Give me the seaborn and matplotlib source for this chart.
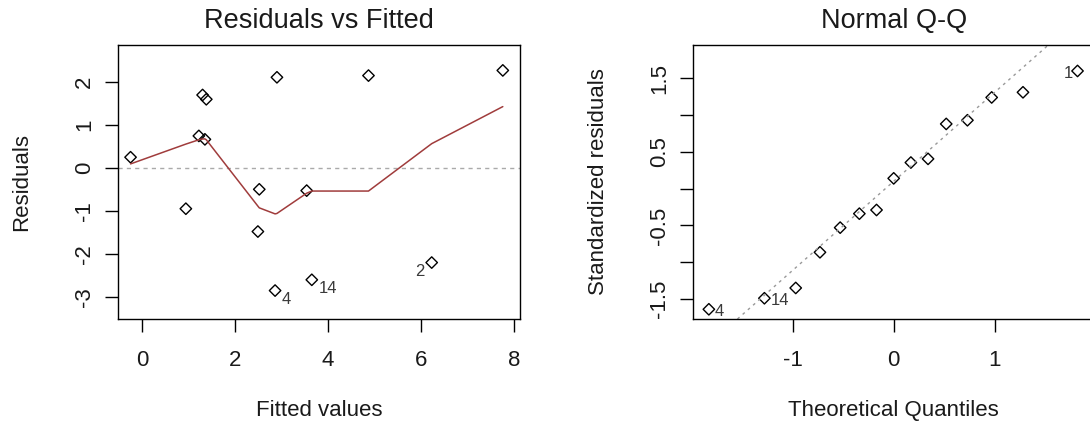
import numpy as np
import pandas as pd
import matplotlib
matplotlib.use("Agg")
import matplotlib.pyplot as plt
import seaborn as sns

# Residuals vs Fitted
fitted = [-0.25, 0.94, 1.22, 1.35, 1.30, 1.38, 2.90, 2.52, 2.49, 2.86, 3.54, 3.65, 4.87, 6.23, 7.76]
resid = [0.255, -0.94, 0.75, 0.67, 1.70, 1.60, 2.11, -0.49, -1.47, -2.84, -0.52, -2.59, 2.15, -2.19, 2.27]
rvf_labels = ["", "", "", "", "", "", "", "", "", "4", "", "14", "", "2", ""]

# smoother line
smooth_x = [-0.25, 0.94, 1.22, 1.30, 1.35, 1.38, 2.49, 2.52, 2.86, 2.90, 3.54, 3.65, 4.87, 6.23, 7.76]
smooth_y = [0.10, 0.56, 0.66, 0.68, 0.68, 0.66, -0.88, -0.92, -1.06, -1.05, -0.58, -0.53, -0.53, 0.57, 1.43]

# Normal Q-Q
theo_q = [-1.83, -1.28, -0.97, -0.73, -0.53, -0.34, -0.17, 0.0, 0.17, 0.34, 0.52, 0.73, 0.97, 1.28, 1.82]
std_resid = [-1.64, -1.49, -1.35, -0.865, -0.53, -0.34, -0.29, 0.14, 0.355, 0.405, 0.88, 0.93, 1.24, 1.31, 1.60]
qq_labels = ["4", "14", "", "", "", "", "", "", "", "", "", "", "", "", "1"]
qq_intercept = 0.10
qq_slope = 1.21

rvf = pd.DataFrame({"fitted": fitted, "resid": resid})
smooth = pd.DataFrame({"x": smooth_x, "y": smooth_y})
qq = pd.DataFrame({"theo": theo_q, "std": std_resid})

sns.set_style("white")
plt.rcParams['font.family'] = ['Liberation Sans', 'DejaVu Sans']
plt.rcParams['axes.unicode_minus'] = False
plt.rcParams['axes.edgecolor'] = 'black'
plt.rcParams['axes.linewidth'] = 1.0

fig = plt.figure(figsize=(10.9, 4.32), dpi=100)
ax1 = fig.add_axes([118 / 1090, 113 / 432, 402 / 1090, 274 / 432])
ax2 = fig.add_axes([692.7 / 1090, 113 / 432, 402 / 1090, 274 / 432])

txt = '#1a1a1a'
idc = '#3a3a3a'

# left panel
ax1.axhline(0, color='#aaaaaa', lw=1, ls=(0, (3, 3)))
sns.lineplot(data=smooth, x="x", y="y", ax=ax1, color='#a03c3c', lw=1.1, sort=False)
sns.scatterplot(data=rvf, x="fitted", y="resid", ax=ax1, marker='D', s=34,
                facecolor='none', edgecolor='black', linewidth=1.0)
for xv, yv, lab in zip(fitted, resid, rvf_labels):
    if not lab:
        continue
    if xv < 5:
        ax1.annotate(lab, (xv, yv), xytext=(7, -9), textcoords='offset pixels',
                     ha='left', va='center', fontsize=12, color=idc)
    else:
        ax1.annotate(lab, (xv, yv), xytext=(-7, -9), textcoords='offset pixels',
                     ha='right', va='center', fontsize=12, color=idc)
ax1.set_xlim(-0.52, 8.13)
ax1.set_ylim(-3.50, 2.86)
ax1.set_xticks([0, 2, 4, 6, 8])
ax1.set_yticks([-3, -2, -1, 0, 1, 2])
ax1.set_title("Residuals vs Fitted", fontsize=19.5, color=txt, pad=12)
ax1.set_xlabel("Fitted values", fontsize=16, color=txt, labelpad=21)
ax1.set_ylabel("Residuals", fontsize=16, color=txt, labelpad=30)

# right panel
ax2.axline((0, qq_intercept), slope=qq_slope, color='#999999', lw=1, ls=(0, (2, 3)))
sns.scatterplot(data=qq, x="theo", y="std", ax=ax2, marker='D', s=34,
                facecolor='none', edgecolor='black', linewidth=1.0)
for xv, yv, lab in zip(theo_q, std_resid, qq_labels):
    if not lab:
        continue
    if xv < 0:
        ax2.annotate(lab, (xv, yv), xytext=(6, -2), textcoords='offset pixels',
                     ha='left', va='center', fontsize=12, color=idc)
    else:
        ax2.annotate(lab, (xv, yv), xytext=(-5, -3), textcoords='offset pixels',
                     ha='right', va='center', fontsize=12, color=idc)
ax2.set_xlim(-1.99, 1.99)
ax2.set_ylim(-1.772, 1.953)
ax2.set_xticks([-1, 0, 1])
ax2.set_yticks([-1.5, -1.0, -0.5, 0.0, 0.5, 1.0, 1.5])
ax2.set_yticklabels(["-1.5", "", "-0.5", "", "0.5", "", "1.5"])
ax2.set_title("Normal Q-Q", fontsize=19.5, color=txt, pad=12)
ax2.set_xlabel("Theoretical Quantiles", fontsize=16, color=txt, labelpad=21)
ax2.set_ylabel("Standardized residuals", fontsize=16, color=txt, labelpad=29)

for ax in (ax1, ax2):
    ax.tick_params(axis='both', direction='out', length=9.5, width=1, color='black',
                   labelsize=16, labelcolor=txt, bottom=True, left=True)
    ax.tick_params(axis='x', pad=13)
    ax.tick_params(axis='y', pad=7, labelrotation=90)
    for lab in ax.get_yticklabels():
        lab.set_va('center')
    for sp in ax.spines.values():
        sp.set_visible(True)
        sp.set_color('black')

fig.savefig("out.png", dpi=100)
